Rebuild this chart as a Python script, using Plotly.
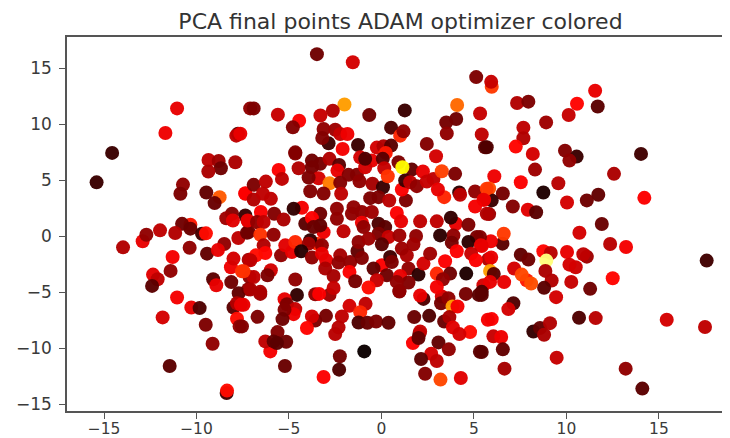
import plotly.graph_objects as go

TITLE = "PCA final points ADAM optimizer colored"
x_ticks = [-15, -10, -5, 0, 5, 10, 15]
y_ticks = [-15, -10, -5, 0, 5, 10, 15]

# (x, y, colour value on the "hot" map)
left_pts = [
 (-11.05,11.4,.33),(-11.68,9.2,.34),(-7.76,9.14,.12),(-7.85,8.97,.27),(-7.1,11.4,.2),(-14.56,7.43,.07),(-15.4,4.8,.07),
 (-9.35,6.8,.27),(-8.8,6.7,.22),(-7.9,6.6,.24),(-8.68,6.06,.15),(-9.36,5.77,.24),(-10.73,4.6,.2),(-10.87,3.78,.17),
 (-8.75,3.48,.5),(-9.47,3.9,.13),(-9.02,2.95,.14),(-7.36,3.78,.35),(-8.08,2.0,.18),(-8.39,1.6,.22),(-7.36,1.85,.07),
 (-8.03,1.4,.32),(-7.2,1.3,.3),(-10.33,1.02,.4),(-10.78,1.1,.15),(-10.33,.67,.14),(-11.97,.52,.27),(-11.15,.28,.25),
 (-12.91,-.46,.33),(-12.71,.13,.2),(-13.97,-1,.25),(-9.7,.22,.08),(-9.49,.25,.38),(-10.37,-1.03,.2),(-11.29,-1.86,.35),
 (-9.43,-1.56,.13),(-8.5,-.7,.2),(-8.84,-1.24,.33),(-7.74,-.17,.27),(-7.18,.37,.15),(-8.14,-2.78,.34),(-8,-2,.3),
 (-7.18,-2.1,.23),(-7.54,-3.13,.43),(-11.4,-3.1,.2),(-12.35,-3.43,.32),(-12.1,-3.84,.27),(-12.4,-4.44,.12),(-9.1,-3.84,.12),
 (-8.93,-4.38,.33),(-8.12,-4.1,.15),(-7.13,-3.64,.2),(-7.2,-4.73,.2),(-7.72,-5.1,.13),(-11.05,-5.47,.35),(-10.28,-6.36,.33),
 (-9.83,-6.42,.1),(-11.83,-7.25,.3),(-9.5,-7.9,.17),(-9.13,-9.6,.2),(-11.45,-11.58,.12),(-8.37,-14.0,.08),(-8.35,-13.78,.38),
 (-8.0,-6.36,.12),(-7.81,-5.98,.25),(-7.6,-6.13,.33),(-7.81,-7.37,.38),(-7.67,-8.05,.2),(-7.54,-8.05,.18),(-7.46,-6.13,.33),
 (-6.7,-7.2,.17),(-7.27,.31,.15),(-7.63,9.14,.33),
]
top_pts = [
 (-3.49,16.24,.15),(-1.55,15.52,.3),(5.12,14.19,.17),(5.96,13.33,.45),(5.93,13.77,.28),(-6.91,11.4,.17),(-5.6,10.84,.28),
 (-4.45,10.3,.36),(-4.79,9.71,.18),(-2.0,11.75,.6),(-2.63,11.19,.25),(-3.3,10.77,.28),(-.66,10.8,.15),(1.26,11.22,.07),
 (4.09,11.7,.52),(5.33,10.95,.28),(4.04,10.45,.15),(3.5,10.15,.16),(3.53,9.17,.2),(5.42,9.08,.27),(5.6,7.93,.13),(2.45,8.23,.18),
 (-3.13,9.56,.2),(-2.5,9.5,.22),(-2.86,8.28,.08),(-3.2,8.76,.18),(-2.23,9.12,.28),(-1.84,9.12,.34),(-2.1,7.78,.35),(-1.27,8.14,.07),
 (-.25,7.9,.3),(.52,9.68,.1),(1.01,8.97,.42),(1.19,9.35,.2),(.2,7.63,.42),(.11,8.02,.25),(.52,8.08,.12),(-4.66,7.48,.18),
 (11.55,12.97,.33),(10.57,11.81,.37),(10.12,10.81,.28),(11.69,11.57,.12),(7.33,11.88,.25),(7.94,12.0,.17),(8.9,10.15,.22),
 (7.67,9.68,.27),(7.67,8.73,.25),(5.69,7.93,.1),(7.26,7.99,.37),(8.18,7.34,.3),(9.92,7.63,.18),(14.03,7.34,.08),
]
right_pts = [
 (10.55,7.1,.07),(10.16,6.74,.2),(8.3,5.94,.22),(12.57,5.56,.24),(6.1,5.35,.34),(7.53,4.81,.36),(9.56,4.72,.26),(5.82,4.25,.48),
 (6.56,3.81,.16),(8.75,3.9,.03),(11.72,3.69,.13),(11.1,3.19,.15),(10.03,3.0,.3),(14.21,3.42,.36),(5.96,3.19,.07),(5.55,3.25,.35),
 (7.1,2.65,.18),(7.91,2.36,.32),(8.36,2.14,.12),(5.82,1.97,.22),(11.91,1.08,.14),(10.7,.31,.3),(6.54,-.67,.12),(6.61,.22,.45),
 (5.91,-.46,.34),(5.33,-.08,.18),(5.42,-.88,.33),(12.36,-.7,.26),(13.22,-.97,.35),(7.53,-1.65,.13),(7.94,-2.09,.15),(8.75,-1.35,.37),
 (9.15,-1.5,.26),(8.91,-2.18,.87),(10.03,-1.41,.33),(11.1,-1.83,.22),(10.91,-1.62,.27),(10.5,-2.78,.29),(10.16,-2.54,.3),(8.86,-3.1,.24),
 (5.78,-2.06,.25),(5.93,-1.91,.33),(7.17,-2.89,.3),(5.87,-3.1,.6),(6.07,-3.37,.12),(7.85,-3.93,.4),(7.58,-3.43,.47),(8.09,-4.23,.48),
 (6.63,-4.1,.33),(5.51,-4.38,.3),(5.87,-4.08,.33),(9.2,-3.96,.25),(10.26,-4.08,.28),(12.5,-3.75,.37),(8.79,-4.61,.12),(11.28,-4.7,.15),
 (17.58,-2.18,.08),(5.42,-4.97,.1),(9.44,-5.44,.3),(7.13,-5.98,.1),(6.86,-6.51,.3),(5.96,-7.4,.36),(5.42,-5.24,.12),(8.21,-8.5,.06),
 (8.57,-8.2,.13),(8.79,-8.8,.24),(9.11,-7.76,.25),(10.68,-7.28,.1),(11.58,-7.31,.26),(15.42,-7.46,.3),(17.49,-8.11,.27),(6.05,-8.94,.28),
 (6.47,-9.0,.34),(6.56,-10.1,.13),(5.42,-10.34,.12),(9.47,-10.84,.28),(6.65,-11.82,.23),(13.2,-11.82,.2),(14.1,-13.6,.12),
]
bottom_pts = [
 (-4.57,-5.24,.06),(-3.58,-5.18,.2),(-2.81,-5.24,.22),(-3.37,-5.15,.36),(-6.55,-5.15,.22),(.97,-4.94,.18),(2.27,-5.6,.1),(2.09,-5.29,.33),
 (3.26,-5.38,.3),(3.22,-5.98,.16),(3.62,-5.53,.2),(3.84,-6.27,.6),(4.11,-6.27,.35),(4.56,-5.15,.16),(5.26,-5.24,.12),(-5.24,-5.62,.33),
 (-5.11,-6.07,.17),(-4.66,-6.51,.28),(-4.75,-6.96,.34),(-5.24,-6.57,.18),(-5.35,-7.4,.15),(-3.58,-7.52,.17),(-3.76,-7.16,.3),(-4.03,-8.2,.37),
 (-3,-7.11,.16),(-1.73,-6.22,.3),(-.86,-6.04,.27),(-1.15,-6.78,.42),(-2.14,-7.16,.27),(-2.32,-8.14,.26),(-2.5,-8.74,.26),(-1.24,-7.7,.1),
 (-.76,-7.73,.14),(-.29,-7.61,.17),(.38,-7.73,.13),(1.77,-7.22,.14),(2.58,-7.11,.1),(3.39,-7.61,.14),(3.67,-7.22,.24),(5.75,-7.46,.35),
 (4.79,-8.56,.38),(3.86,-8.14,.32),(4.21,-8.74,.3),(2.05,-8.7,.14),(2.09,-8.5,.28),(1.7,-9.54,.36),(2.0,-9.09,.13),(3.08,-9.48,.13),
 (3.64,-10.1,.2),(5.32,-10.31,.12),(-.93,-10.28,0),(-2.25,-10.72,.16),(-2.29,-11.91,.1),(-5.22,-11.58,.14),(-3.13,-12.56,.36),(2.69,-10.49,.3),
 (2.14,-10.96,.12),(2.99,-11.14,.27),(2.36,-12.27,.18),(3.19,-12.8,.47),(4.29,-12.65,.32),(-6.01,-10.28,.35),(-6.28,-9.39,.27),(-5.62,-8.56,.18),
 (-5.83,-9.39,.13),(-5.15,-9.42,.15),(-5.65,-9.54,.12),
]
centre_pts = [
 (-4.66,7.37,.18),(-4.48,6.06,.25),(-5.56,5.91,.36),(-5.38,5.11,.27),(-3.76,6.74,.15),(-3.31,6.45,.16),(-3.76,6.15,.16),(-3.4,5.17,.3),
 (-3.94,5.23,.17),(-2.81,6.9,.25),(-2.29,6.36,.12),(-2.38,5.85,.33),(-2.81,4.72,.55),(-2.23,4.76,.18),(-1.78,5.47,.18),(-1.33,5.47,.18),
 (-1.19,4.9,.2),(-.49,4.67,.23),(.08,4.37,.07),(-3.85,4.01,.18),(-3.13,3.81,.18),(-2.18,3.78,.27),(-.16,3.48,.17),(-.61,3.39,.17),
 (.42,3.18,.26),(1.32,3.19,.17),(1.1,4.16,.36),(-1.15,7.03,.3),(-.52,6.74,.33),(-.88,6.15,.3),(-.88,6.9,.1),(.23,7.43,.4),(.07,6.9,.12),
 (.15,6.06,.28),(.34,5.35,.44),(.92,6.6,.17),(1.64,5.94,.13),(1.13,6.15,.74),(1.28,4.96,.07),(1.55,4.81,.27),(1.91,4.46,.2),(2.24,5.77,.33),
 (2.81,5.11,.27),(2.45,4.88,.28),(3.26,5.79,.46),(3.98,5.56,.17),(2.95,7.13,.3),(3.39,3.48,.42),(3.05,4.16,.33),(4.2,3.9,.05),(4.25,3.69,.27),
 (5.06,3.99,.2),(5.69,4.23,.45),(5.51,3.25,.33),(5.06,2.65,.35),(5.69,2.0,.25),(-4.3,2.53,.35),(-4.75,2.44,.06),(-7.36,3.83,.36),(-6.91,4.58,.17),
 (-6.25,4.87,.27),(-6.91,3.27,.25),(-6.41,3.78,.27),(-5.98,3.33,.27),(-6.52,2.15,.36),(-5.8,2.0,.18),(-5.29,1.49,.24),(-7.24,1.4,.33),
 (-6.73,1.26,.2),(-6.37,1.26,.27),(-4.12,1.11,.12),(-3.31,2.0,.15),(-3.76,1.61,.36),(-3.13,.36,.34),(-3.31,.96,.13),(-3.67,.81,.14),
 (-2.41,1.55,.2),(-2.41,2.44,.2),(-1.51,2.59,.2),(-1.6,2.0,.2),(-1.06,2.15,.2),(-.52,2.15,.22),(.83,2.06,.36),(1.06,1.32,.33),(2.09,1.32,.27),
 (2.99,1.32,.27),(4.02,1.11,.33),(3.75,1.65,.06),(4.7,1.02,.17),(-2.05,.43,.27),(-1.06,1.2,.34),(-.97,.81,.2),(-.16,1.11,.1),(.2,.81,.12),
 (-.16,.22,.17),(.38,-.08,.28),(.97,.07,.22),(1.87,.01,.2),(3.89,.07,.2),(3.17,.07,.05),(3.8,-.58,.16),(5.15,-.08,.17),(4.7,-.52,.05),
 (5.37,-.82,.33),(4.07,-1.35,.36),(4.85,-1.56,.28),(5.1,-2.15,.36),(-6.55,.13,.44),(-5.83,.13,.2),(-6.37,-.82,.25),(-6.28,-1.5,.37),
 (-6.79,-1.71,.38),(-7.09,-2.15,.27),(-5.43,-1.71,.2),(-5.2,-.82,.32),(-4.84,-1.41,.33),(-4.66,-.52,.42),(-3.49,-.67,.42),(-3.85,-.37,.06),
 (-3.94,-.67,.22),(-4.34,-1.35,.04),(-3.76,-1.91,.2),(-3.22,-.82,.2),(-3.22,-1.56,.33),(-2.99,-2.15,.33),(-3.04,-2.89,.24),(-2.59,-3.55,.23),
 (-2.23,-1.71,.23),(-2.32,-2.36,.2),(-1.69,-2.3,.2),(-1.73,-3.19,.36),(-1.42,-4.02,.16),(-1.3,-1.33,.13),(-1.06,-1.95,.18),(-1.24,-.52,.2),
 (-.7,-.22,.22),(.02,-.73,.12),(.02,-2.6,.36),(.47,-1.86,.08),(.56,-2.3,.17),(-.43,-2.89,.13),(.29,-3.49,.15),(-.25,-3.93,.28),(-.7,-4.58,.38),
 (1.46,-2.89,.2),(1.01,-3.55,.33),(2,-3.43,.05),(1.46,-4.14,.18),(.83,-4.08,.2),(.97,-4.9,.2),(2.27,-2.45,.3),(2.63,-1.56,.22),(1.37,-1.71,.24),
 (1.1,-1.11,.22),(1.73,-.73,.22),(3.44,-2.24,.36),(2.99,-3.34,.42),(3.71,-3.34,.15),(3.32,-3.84,.2),(2.99,-4.53,.35),(4.58,-3.34,.03),
 (-2.59,-4.62,.28),(-4.66,-3.87,.2),(-5.98,-3.04,.3),(-6.16,-3.49,.17),(-6.91,-3.64,.27),(-7.46,-3.13,.44),(-7.09,-4.76,.24),(-6.55,-4.97,.24),
]

points = left_pts + top_pts + right_pts + bottom_pts + centre_pts
xs = [p[0] for p in points]
ys = [p[1] for p in points]
cs = [p[2] for p in points]

# matplotlib "hot"
hot = [[0, "#0b0000"], [0.365, "#ff0000"], [0.746, "#ffff00"], [1, "#ffffff"]]

fig = go.Figure(go.Scatter(
    x=xs, y=ys, mode="markers",
    marker=dict(size=14, color=cs, cmin=0, cmax=1, colorscale=hot, opacity=0.97, line=dict(width=0)),
    hoverinfo="skip",
))
ink = "#3a3a3a"
axis = dict(showgrid=False, zeroline=False, showline=True, linecolor="#555555", linewidth=1.5, automargin=False,
            ticks="outside", ticklen=6, tickwidth=1.2, tickcolor="#555555", tickmode="array")
# the page adds an 8 px body margin, so the figure is 8 px smaller than the window
fig.update_layout(
    width=722, height=430, autosize=False, showlegend=False,
    paper_bgcolor="white", plot_bgcolor="white",
    margin=dict(l=58.5, r=0, t=28.5, b=27),
    title=dict(text=TITLE, x=(400.5-8)/722, xanchor="center", y=0.968, yanchor="middle",
               font=dict(family="DejaVu Sans", size=22, color="#333333")),
    xaxis=dict(axis, mirror=True, range=[-17.0, 18.84], tickvals=x_ticks,
               ticktext=[str(t).replace("-", "\u2212") for t in x_ticks], ticklabelstandoff=-3,
               tickfont=dict(family="DejaVu Sans", size=15.5, color=ink)),
    yaxis=dict(axis, mirror=False, range=[-15.6, 17.77], tickvals=y_ticks,
               ticktext=[str(t).replace("-", "\u2212") for t in y_ticks], ticklabelstandoff=4,
               tickfont=dict(family="DejaVu Sans", size=17, color=ink)),
)
fig.write_html("out.html")
